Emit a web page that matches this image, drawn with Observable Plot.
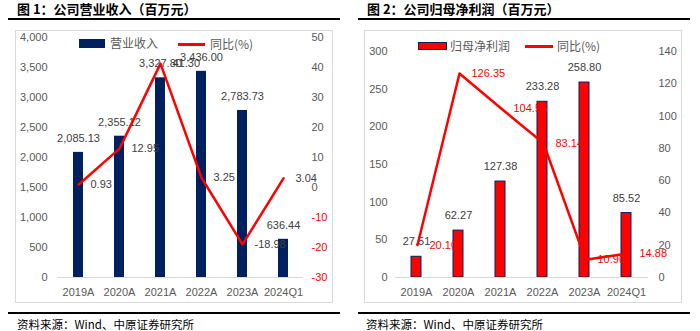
<!DOCTYPE html>
<html><head><meta charset="utf-8">
<script src="https://cdn.jsdelivr.net/npm/d3@7"></script>
<script src="https://cdn.jsdelivr.net/npm/@observablehq/plot@0.6"></script>
<style>
body{margin:0;background:#fff;}
#root{position:relative;width:700px;height:331px;overflow:hidden;font-family:"Liberation Sans",Arial,sans-serif;background:#fff;}
.abs{position:absolute;}
.title{font-family:"Noto Sans CJK SC";font-weight:700;font-size:13px;line-height:16px;color:#000;white-space:nowrap;}
.rule{background:#000;height:2px;}
.box{border:1px solid #D9D9D9;box-sizing:border-box;}
.src{font-family:"Noto Sans CJK SC";font-size:11.5px;line-height:16px;color:#000;white-space:nowrap;}
.leg{font-family:"Noto Sans CJK SC";font-size:12px;line-height:14px;color:#595959;white-space:nowrap;}
</style></head>
<body><div id="root"></div>
<script>
// ---- data ----
const categories = ["2019A", "2020A", "2021A", "2022A", "2023A", "2024Q1"];
const revenue = [2085.13, 2355.12, 3327.80, 3436.00, 2783.73, 636.44];
const revenueYoY = [0.93, 12.95, 41.30, 3.25, -18.98, 3.04];
const netProfit = [27.51, 62.27, 127.38, 233.28, 258.80, 85.52];
const netProfitYoY = [20.10, 126.35, 104.56, 83.14, 10.96, 14.88];
const revTicks = [0, 500, 1000, 1500, 2000, 2500, 3000, 3500, 4000];
const revYoYPosTicks = [0, 10, 20, 30, 40, 50];
const revYoYNegTicks = [-30, -20, -10];
const npTicks = [0, 50, 100, 150, 200, 250, 300];
const npYoYTicks = [0, 20, 40, 60, 80, 100, 120, 140];
const titles = ["图 1：公司营业收入（百万元）", "图 2：公司归母净利润（百万元）"];
const legendBar = ["营业收入", "归母净利润"];
const legendLine = "同比(%)";
const source = "资料来源：Wind、中原证券研究所";

const root = document.getElementById("root");
function el(cls, style, text) {
  const d = document.createElement("div");
  d.className = "abs " + cls;
  Object.assign(d.style, style);
  if (text != null) d.textContent = text;
  root.appendChild(d);
  return d;
}
function place(svg, left, top) {
  svg.style.position = "absolute";
  svg.style.left = left + "px";
  svg.style.top = top + "px";
  svg.style.background = "transparent";
  root.appendChild(svg);
}
const font = "'Liberation Sans', Arial, sans-serif";
const fmtThousands = d => d.toLocaleString("en-US");
const fmtBar = d3.format(",.2f");

function barPlot(o) {
  const data = categories.map((c, i) => ({c, v: o.values[i]}));
  return Plot.plot({
    width: 350, height: 275,
    marginTop: o.mTop, marginBottom: 28, marginLeft: o.mLeft, marginRight: o.mRight,
    style: {fontFamily: font, fontSize: "11px", background: "transparent", overflow: "visible"},
    x: {domain: categories, paddingInner: 0.76, paddingOuter: 0.38},
    y: {domain: o.domain},
    marks: [
      Plot.axisX({tickSize: 0, tickPadding: 11, color: "#595959", label: null}),
      Plot.axisY({ticks: o.ticks, tickSize: 0, tickPadding: o.leftPad, tickFormat: o.tickFormat, color: "#595959", label: null}),
      Plot.barY(data, {x: "c", y: "v", fill: o.fill, stroke: o.stroke, strokeWidth: o.strokeWidth}),
      Plot.ruleY([0], {stroke: "#D9D9D9", strokeWidth: 1}),
      Plot.text(data, {x: "c", y: "v", text: d => fmtBar(d.v), dy: o.labelDy, fill: "#404040"})
    ]
  });
}

function linePlot(o) {
  const data = categories.map((c, i) => ({c, v: o.values[i]}));
  const marks = [
    Plot.axisY({anchor: "right", ticks: o.posTicks, tickSize: 0, tickPadding: o.rightPad, tickFormat: d => String(d), color: "#595959", label: null})
  ];
  if (o.negTicks) marks.push(Plot.axisY({anchor: "right", ticks: o.negTicks, tickSize: 0, tickPadding: o.rightPad, tickFormat: d => String(d), color: "#FF0000", label: null}));
  marks.push(
    Plot.lineY(data, {x: "c", y: "v", stroke: "#FF0000", strokeWidth: 2.5}),
    Plot.text(data, {x: "c", y: "v", text: d => d.v.toFixed(2), textAnchor: "start", dx: 12, fill: o.labelFill})
  );
  return Plot.plot({
    width: 350, height: 275,
    marginTop: o.mTop, marginBottom: 28, marginLeft: o.mLeft, marginRight: o.mRight,
    style: {fontFamily: font, fontSize: "11px", background: "transparent", overflow: "visible"},
    x: {type: "point", domain: categories, padding: 0.5, axis: null},
    y: {domain: o.domain},
    marks
  });
}

// ---- frame: titles, rules, boxes, source ----
el("title", {left: "17px", top: "1px"}, titles[0]);
el("title", {left: "367px", top: "1px"}, titles[1]);
el("rule", {left: "8px", top: "18px", width: "332px"});
el("rule", {left: "358px", top: "18px", width: "332px"});
el("box", {left: "15px", top: "30px", width: "318px", height: "273px"});
el("box", {left: "364px", top: "30px", width: "318px", height: "273px"});
el("rule", {left: "8px", top: "312px", width: "332px"});
el("rule", {left: "358px", top: "312px", width: "332px"});
el("src", {left: "17px", top: "316px"}, source);
el("src", {left: "366px", top: "316px"}, source);

// ---- chart 1 ----
place(barPlot({values: revenue, domain: [0, 4000], ticks: revTicks, tickFormat: fmtThousands,
  mTop: 7, mLeft: 57, mRight: 47, leftPad: 10, fill: "#002060", stroke: null, strokeWidth: 0, labelDy: -14}), 0, 30);
place(linePlot({values: revenueYoY, domain: [-30, 50], posTicks: revYoYPosTicks, negTicks: revYoYNegTicks,
  mTop: 7, mLeft: 57, mRight: 47, rightPad: 8, labelFill: "#404040"}), 0, 30);

// ---- chart 2 ----
place(barPlot({values: netProfit, domain: [0, 300], ticks: npTicks, tickFormat: d => String(d),
  mTop: 21, mLeft: 45, mRight: 52, leftPad: 8, fill: "#FF0000", stroke: "#002060", strokeWidth: 1, labelDy: -15}), 350, 30);
place(linePlot({values: netProfitYoY, domain: [0, 140], posTicks: npYoYTicks, negTicks: null,
  mTop: 21, mLeft: 45, mRight: 52, rightPad: 10, labelFill: "#FF0000"}), 350, 30);

// ---- legends ----
el("", {left: "79px", top: "39px", width: "26px", height: "9px", background: "#002060"});
el("leg", {left: "110px", top: "36px"}, legendBar[0]);
el("", {left: "178px", top: "43px", width: "27px", height: "2.5px", background: "#FF0000"});
el("leg", {left: "210px", top: "37px"}, legendLine);

el("", {left: "418px", top: "42px", width: "29px", height: "8px", background: "#FF0000", border: "1px solid #002060", boxSizing: "border-box"});
el("leg", {left: "450px", top: "39px"}, legendBar[1]);
el("", {left: "525px", top: "45px", width: "28px", height: "2.5px", background: "#FF0000"});
el("leg", {left: "557px", top: "39px"}, legendLine);
</script>
</body></html>
